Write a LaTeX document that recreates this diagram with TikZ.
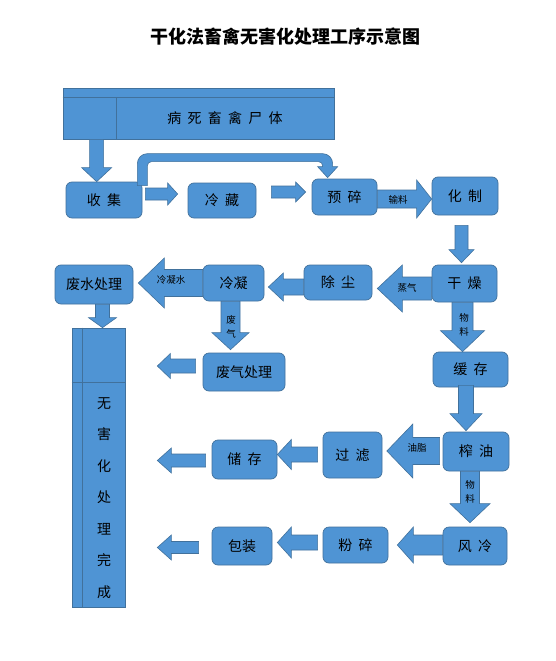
\documentclass[tikz,border=0pt]{standalone}
\usepackage{fontspec}
\newfontfamily\cjk{Noto Sans CJK SC}
\usetikzlibrary{calc}
\definecolor{boxblue}{HTML}{4F94D4}
\definecolor{edgeblue}{HTML}{41719C}
\newcommand\chgap{\hspace{0.45em}}
\tikzset{
  stepbox/.style 2 args={draw=edgeblue,fill=boxblue,rounded corners=6pt,line width=0.7pt,
    minimum width=#1pt,minimum height=#2pt,inner sep=0pt,font=\cjk\fontsize{14}{16}\selectfont},
  tablebox/.style 2 args={draw=edgeblue,fill=boxblue,line width=0.7pt,
    minimum width=#1pt,minimum height=#2pt,inner sep=0pt},
  cell/.style={draw=edgeblue,line width=0.7pt},
  blockarrow/.style={draw=edgeblue,fill=boxblue,line width=0.6pt},
  boxtext/.style={inner sep=0pt,font=\cjk\fontsize{14}{16}\selectfont},
  tag/.style={inner sep=0pt,align=center,font=\cjk\fontsize{9.5}{14}\selectfont},
  title/.style={inner sep=0pt,font=\cjk\bfseries\fontsize{18}{20}\selectfont}
}
% block arrow: from, to, half shaft, half head, head length
\newcommand\flowarrow[5]{%
  \path[blockarrow] let \p1=#1, \p2=#2,
    \n1={atan2((\y2)-(\y1),(\x2)-(\x1))},
    \n2={veclen((\x2)-(\x1),(\y2)-(\y1))-#5} in
    ($(\p1)+(\n1+90:#3pt)$) -- ++(\n1:\n2) -- ++(\n1+90:#4pt-#3pt) -- (\p2)
    -- ($(\p1)+(\n1:\n2)+(\n1-90:#4pt)$) -- ++(\n1+90:#4pt-#3pt)
    -- ($(\p1)+(\n1-90:#3pt)$) -- cycle;}

\begin{document}
\begin{tikzpicture}[x=1pt,y=-1pt]
  \fill[white] (0,0) rectangle (555,661);
  \useasboundingbox (0,0) rectangle (555,661);

  \node[title] (title) at (285,37) {干化法畜禽无害化处理工序示意图};

  \node[tablebox={271}{51}] (bingsi) at (198.5,113.5) {};
  \draw[cell] ($(bingsi.north west)+(0,10)$) -- ($(bingsi.north east)+(0,10)$);
  \draw[cell] ($(bingsi.north west)+(54,10)$) -- ($(bingsi.south west)+(54,0)$);
  \node[boxtext] (bingsitxt) at (225,118) {病\chgap 死\chgap 畜\chgap 禽\chgap 尸\chgap 体};

  \node[stepbox={76}{36}] (shouji) at (104,200) {收\chgap 集};
  \node[stepbox={68}{35}] (lengcang) at (222,200.5) {冷\chgap 藏};
  \node[stepbox={65}{36}] (yusui) at (344.5,197) {预\chgap 碎};
  \node[stepbox={66}{38}] (huazhi) at (465,196) {化\chgap 制};
  \node[stepbox={65}{37}] (ganzao) at (464.5,283.5) {干\chgap 燥};
  \node[stepbox={68}{35}] (chuchen) at (338,282.5) {除\chgap 尘};
  \node[stepbox={61}{36}] (lengning) at (233.5,283) {冷凝};
  \node[stepbox={78}{39}] (feishui) at (94,284.5) {废水处理};
  \node[stepbox={82}{38}] (feiqi) at (244,372) {废气处理};
  \node[stepbox={75}{35}] (huancun) at (470.5,369.5) {缓\chgap 存};
  \node[stepbox={66}{39}] (zhayou) at (476,451.5) {榨\chgap 油};
  \node[stepbox={59}{46}] (guolv) at (352.5,455) {过\chgap 滤};
  \node[stepbox={65}{39}] (chucun) at (244.5,459.5) {储\chgap 存};
  \node[stepbox={64}{38}] (fengleng) at (475,546) {风\chgap 冷};
  \node[stepbox={65}{36}] (fensui) at (355.5,545) {粉\chgap 碎};
  \node[stepbox={60}{38}] (baozhuang) at (242,546) {包装};

  \node[tablebox={53}{279}] (wanc) at (98.5,467.5) {};
  \draw[cell] ($(wanc.north west)+(11,0)$) -- ($(wanc.south west)+(11,0)$);
  \draw[cell] ($(wanc.north west)+(0,55)$) -- ($(wanc.north east)+(0,55)$);
  \node[boxtext,align=center,font=\cjk\fontsize{14}{31.5}\selectfont] (wanctxt) at (104,498)
    {无\\害\\化\\处\\理\\完\\成};

  \coordinate (b1) at ($(shouji.north east)+(0,4)$);
  \coordinate (b2) at ($(yusui.north west)+(16,-1)$);
  \path[blockarrow] let \p1=(b1), \p2=(b2) in
    (\x1-5pt,\y1) [rounded corners=10pt] -- (\x1-5pt,\y2+24pt) -- (\x2+5pt,\y2+24pt)
    [sharp corners] -- (\x2+5pt,\y2+11pt) -- (\x2+10pt,\y2+11pt) -- (\p2)
    -- (\x2-10pt,\y2+11pt) -- (\x2-5pt,\y2+11pt) [rounded corners=4pt]
    -- (\x2-5pt,\y2+16pt) -- (\x1+5pt,\y2+16pt) [sharp corners] -- (\x1+5pt,\y1) -- cycle;

  \coordinate (a2) at ($(shouji.east)+(3,-6)$);
  \coordinate (a3) at ($(lengcang.east)+(15,-8.5)$);
  \coordinate (a4) at ($(yusui.east)+(0,2)$);
  \coordinate (a5) at ($(huazhi.south)+(-3.5,10)$);
  \coordinate (a6) at ($(ganzao.west)+(0,5)$);
  \coordinate (a7) at ($(chuchen.west)+(0,4.5)$);
  \coordinate (a8) at (lengning.west);
  \coordinate (a9) at ($(feishui.south)+(8.5,0)$);
  \coordinate (a10) at ($(lengning.south)+(-3,0)$);
  \coordinate (a11) at ($(feiqi.west)+(-7,-6)$);
  \coordinate (a12) at ($(ganzao.south)+(-2,0)$);
  \coordinate (a13) at ($(huancun.south)+(-4.5,-2)$);
  \coordinate (a14) at ($(zhayou.west)+(-3,-0.5)$);
  \coordinate (a15) at ($(guolv.west)+(-5,-0.5)$);
  \coordinate (a16) at ($(chucun.west)+(-6,1)$);
  \coordinate (a17) at ($(zhayou.south)+(-6,0)$);
  \coordinate (a18) at ($(fengleng.west)+(0,-1)$);
  \coordinate (a19) at ($(fensui.west)+(-5,-2.5)$);
  \coordinate (a20) at ($(baozhuang.west)+(-13,1.5)$);

  \flowarrow{($(bingsi.south west)+(34,0)$)}{($(shouji.north west)+(31,0)$)}{7}{15}{14}
  \flowarrow{(a2)}{($(a2 -| lengcang.west)+(-10,0)$)}{6}{11}{10}
  \flowarrow{(a3)}{($(a3 -| yusui.west)+(-6,0)$)}{6}{10}{10}
  \flowarrow{(a4)}{(a4 -| huazhi.west)}{9}{19}{15}
  \flowarrow{(a5)}{($(a5 |- ganzao.north)+(0,-2)$)}{6.5}{12.5}{13}
  \flowarrow{(a6)}{($(a6 -| chuchen.east)+(5,0)$)}{11.5}{23.5}{25}
  \flowarrow{(a7)}{($(a7 -| lengning.east)+(4,0)$)}{8}{14}{15}
  \flowarrow{(a8)}{($(a8 -| feishui.east)+(5,0)$)}{13.5}{25}{26}
  \flowarrow{(a9)}{(a9 |- wanc.north)}{7}{14}{10}
  \flowarrow{(a10)}{($(a10 |- feiqi.north)+(0,-3)$)}{9.5}{18.5}{17}
  \flowarrow{(a11)}{($(a11 -| wanc.east)+(32,0)$)}{7}{12.5}{13}
  \flowarrow{(a12)}{(a12 |- huancun.north)}{10.5}{22}{21}
  \flowarrow{(a13)}{($(a13 |- zhayou.north)+(0,-1)$)}{7.5}{16}{17}
  \flowarrow{(a14)}{($(a14 -| guolv.east)+(4.5,0)$)}{13.5}{27}{26}
  \flowarrow{(a15)}{(a15 -| chucun.east)}{7.5}{15}{14}
  \flowarrow{(a16)}{($(a16 -| wanc.east)+(32,0)$)}{6.5}{12.5}{14}
  \flowarrow{(a17)}{($(a17 |- fengleng.north)+(0,-4)$)}{9.5}{20}{19}
  \flowarrow{(a18)}{($(a18 -| fensui.east)+(9,0)$)}{10}{18}{16}
  \flowarrow{(a19)}{($(a19 -| baozhuang.east)+(5,0)$)}{7.5}{15.5}{14}
  \flowarrow{(a20)}{($(a20 -| wanc.east)+(32,0)$)}{6}{12.5}{14}

  \node[tag] (shuliao) at (398,200) {输料};
  \node[tag] (zhengqi) at (407,288) {蒸气};
  \node[tag] (lnshui) at (171,280) {冷凝水};
  \node[tag] (feiqitag) at (231,327) {废\\气};
  \node[tag] (wuliao1) at (464,325) {物\\料};
  \node[tag] (youzhi) at (417,448) {油脂};
  \node[tag] (wuliao2) at (470,492) {物\\料};
\end{tikzpicture}
\end{document}
